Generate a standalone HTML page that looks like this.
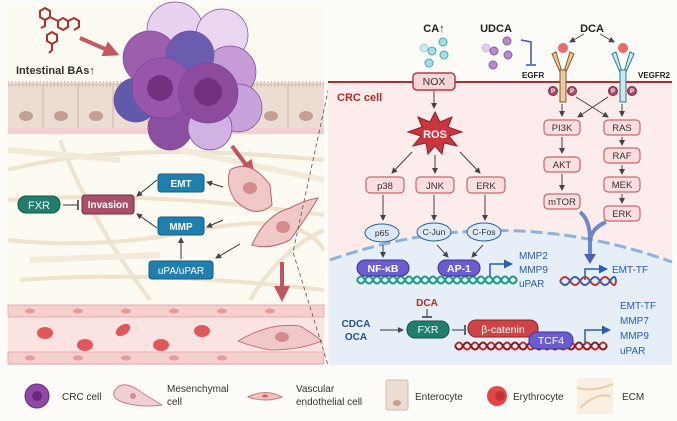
<!DOCTYPE html>
<html><head><meta charset="utf-8"><style>
html,body{margin:0;padding:0;background:#fdfcf8;}
svg{display:block;font-family:"Liberation Sans",Arial,sans-serif;}
</style></head><body>
<svg width="677" height="421" viewBox="0 0 677 421" xmlns="http://www.w3.org/2000/svg">
<defs>
<marker id="ah" markerWidth="6" markerHeight="6" refX="5" refY="3" orient="auto"><path d="M0,0 L6,3 L0,6 z" fill="#444"/></marker>
<marker id="ahb" markerWidth="6" markerHeight="6" refX="4" refY="3" orient="auto"><path d="M0,0 L6,3 L0,6 z" fill="#2a5db0"/></marker>
<marker id="ahr" markerWidth="4" markerHeight="4" refX="2" refY="2" orient="auto"><path d="M0,0 L4,2 L0,4 z" fill="#c0565e"/></marker>
</defs>
<rect width="677" height="421" fill="#fdfcf8"/>
<!-- LEFT PANEL -->
<rect x="8" y="5" width="316" height="360" fill="#fcfaf1"/>
<g stroke="#eddfca" stroke-width="4" fill="none" opacity="0.85">
<path d="M8,170 Q120,140 324,160"/><path d="M8,200 Q150,190 324,215"/><path d="M8,240 Q100,250 200,230 T324,250"/>
<path d="M20,280 Q150,270 324,290"/><path d="M60,140 Q90,220 150,300"/><path d="M250,300 Q280,250 324,230"/>
</g>
<g stroke="#f2ebdc" stroke-width="6" fill="none">
<path d="M8,150 L120,160"/><path d="M180,150 L324,180"/><path d="M30,260 L160,255"/>
</g>
<rect x="8" y="84" width="316" height="44" fill="#ecdcd2"/>
<g stroke="#cdb7aa" stroke-width="1">
<line x1="8" y1="84" x2="324" y2="84"/>
<line x1="43" y1="84" x2="43" y2="128"/><line x1="78" y1="84" x2="78" y2="128"/><line x1="113" y1="84" x2="113" y2="128"/><line x1="148" y1="84" x2="148" y2="128"/><line x1="183" y1="84" x2="183" y2="128"/><line x1="218" y1="84" x2="218" y2="128"/><line x1="253" y1="84" x2="253" y2="128"/><line x1="288" y1="84" x2="288" y2="128"/>
</g>
<path d="M8,84 h316" stroke="#d8c4b8" stroke-width="6" stroke-dasharray="1.5 2"/>
<g fill="#c49f94"><ellipse cx="26" cy="116" rx="7" ry="5"/><ellipse cx="61" cy="116" rx="7" ry="5"/><ellipse cx="96" cy="116" rx="7" ry="5"/><ellipse cx="271" cy="116" rx="7" ry="5"/><ellipse cx="306" cy="116" rx="7" ry="5"/></g>
<rect x="8" y="128" width="316" height="6" fill="#f4cfcf"/>
<g stroke="#a83232" stroke-width="2" fill="none">
<path d="M45,8 l5,3 v6 l-5,3 l-5,-3 v-6z M50,17 l8,4 M58,21 l5,-3 l5,3 v6 l-5,3 l-5,-3z M68,21 l6,-3 l5,3 v6 l-5,3 M45,20 v6 l-4,2"/>
<path d="M52,32 l5,3 v6 l-5,3 l-5,-3 v-6z M52,44 v6 l-3,3"/>
</g>
<line x1="80" y1="38" x2="112" y2="52" stroke="#c65a5e" stroke-width="4" marker-end="url(#ahr)"/>
<text x="16" y="74" font-size="11" font-weight="bold" fill="#333">Intestinal BAs↑</text>
<g stroke="#7a4a9a" stroke-width="0.7">
<circle cx="175" cy="30" r="28" fill="#e8d2ef"/><circle cx="222" cy="35" r="26" fill="#ebd6f1"/>
<circle cx="150" cy="58" r="27" fill="#9c5fae"/><circle cx="230" cy="72" r="26" fill="#c79bd5"/>
<circle cx="190" cy="55" r="24" fill="#6c5cb0"/><circle cx="136" cy="100" r="22" fill="#5f5aaa"/>
<circle cx="238" cy="108" r="24" fill="#c7a2db"/><circle cx="170" cy="128" r="22" fill="#8a4fa0"/>
<circle cx="210" cy="128" r="22" fill="#d2b2e2"/>
<circle cx="162" cy="88" r="30" fill="#9a56ac"/><circle cx="208" cy="93" r="30" fill="#8d4b9e"/>
</g>
<g fill="#70307f"><circle cx="160" cy="88" r="13"/><circle cx="208" cy="92" r="14"/></g>
<line x1="232" y1="146" x2="250" y2="170" stroke="#c05560" stroke-width="4" marker-end="url(#ahr)"/>
<path d="M230,170 Q250,158 270,185 L272,205 Q255,220 235,200 Q225,185 230,170z" fill="#f0c8c8" stroke="#c06070"/>
<path d="M252,245 Q265,215 290,208 Q305,200 318,198 Q305,220 290,240 Q270,250 252,245z" fill="#f0c8c8" stroke="#c06070"/>
<ellipse cx="250" cy="188" rx="7" ry="6" fill="#d48c8e"/><ellipse cx="283" cy="227" rx="7" ry="6" fill="#d48c8e"/>
<line x1="282" y1="262" x2="282" y2="294" stroke="#c05560" stroke-width="4" marker-end="url(#ahr)"/>
<g font-size="10" font-weight="bold" fill="#fff" text-anchor="middle">
<rect x="158" y="174" width="46" height="18" rx="3" fill="#1f7fae" stroke="#155c80"/><text x="181" y="187">EMT</text>
<rect x="158" y="217" width="46" height="18" rx="3" fill="#1f7fae" stroke="#155c80"/><text x="181" y="230">MMP</text>
<rect x="149" y="261" width="64" height="18" rx="3" fill="#1f7fae" stroke="#155c80"/><text x="181" y="274" font-weight="normal">uPA/uPAR</text>
<rect x="82" y="195" width="52" height="19" rx="3" fill="#a8506a" stroke="#6e2c40"/><text x="108" y="208">Invasion</text>
<rect x="18" y="196" width="42" height="17" rx="8" fill="#1f7e6c" stroke="#135446"/><text x="39" y="209" font-weight="normal" font-size="11">FXR</text>
</g>
<g stroke="#333" stroke-width="1" fill="none">
<line x1="223" y1="187" x2="207" y2="182" marker-end="url(#ah)"/>
<line x1="223" y1="220" x2="207" y2="227" marker-end="url(#ah)"/>
<line x1="240" y1="244" x2="216" y2="258" marker-end="url(#ah)"/>
<line x1="181" y1="259" x2="181" y2="238" marker-end="url(#ah)"/>
<line x1="157" y1="180" x2="137" y2="196" marker-end="url(#ah)"/>
<line x1="157" y1="228" x2="137" y2="214" marker-end="url(#ah)"/>
<line x1="63" y1="205" x2="77" y2="205"/><line x1="78" y1="200" x2="78" y2="210" stroke-width="1.5"/>
</g>
<rect x="8" y="305" width="316" height="60" fill="#fbe3e1"/>
<rect x="8" y="305" width="316" height="12" fill="#f6cfcf" stroke="#e0a5a5" stroke-width="0.8"/>
<rect x="8" y="352" width="316" height="12" fill="#f6cfcf" stroke="#e0a5a5" stroke-width="0.8"/>
<g fill="#e89a9a"><ellipse cx="30" cy="311" rx="5" ry="2.5"/><ellipse cx="78" cy="311" rx="5" ry="2.5"/><ellipse cx="126" cy="311" rx="5" ry="2.5"/><ellipse cx="174" cy="311" rx="5" ry="2.5"/><ellipse cx="222" cy="311" rx="5" ry="2.5"/><ellipse cx="270" cy="311" rx="5" ry="2.5"/><ellipse cx="30" cy="358" rx="5" ry="2.5"/><ellipse cx="78" cy="358" rx="5" ry="2.5"/><ellipse cx="126" cy="358" rx="5" ry="2.5"/><ellipse cx="174" cy="358" rx="5" ry="2.5"/><ellipse cx="222" cy="358" rx="5" ry="2.5"/></g>
<g fill="#e0585a"><ellipse cx="45" cy="333" rx="8" ry="6"/><ellipse cx="85" cy="345" rx="8" ry="6"/><ellipse cx="123" cy="330" rx="8" ry="5" transform="rotate(-35 123 330)"/><ellipse cx="161" cy="345" rx="8" ry="6"/><ellipse cx="202" cy="331" rx="8" ry="6"/></g>
<path d="M238,341 Q270,322 300,326 Q315,335 322,341 Q300,350 270,350 Q250,346 238,341z" fill="#f0c8c8" stroke="#c06070" stroke-width="0.8"/>
<ellipse cx="282" cy="337" rx="7" ry="5" fill="#d48c8e"/>
<path d="M330,82 L293,252 L328,365" stroke="#555" stroke-width="0.8" stroke-dasharray="4 3" fill="none"/>
<!-- RIGHT PANEL -->
<rect x="328" y="5" width="344" height="77" fill="#fdfbf8"/>
<rect x="328" y="82" width="344" height="283" fill="#fcecec"/>
<path d="M330,260 Q500,200 672,262 L672,365 L330,365z" fill="#e6eef8"/>
<path d="M330,260 Q500,200 672,262" fill="none" stroke="#8eb2d9" stroke-width="3" stroke-dasharray="12 5"/>
<line x1="328" y1="82" x2="672" y2="82" stroke="#a83232" stroke-width="2"/>
<text x="337" y="101" font-size="11" font-weight="bold" fill="#b02a2a">CRC cell</text>
<g font-size="11" font-weight="bold" fill="#222" text-anchor="middle">
<text x="434" y="32">CA↑</text><text x="496" y="32">UDCA</text><text x="592" y="32">DCA</text>
</g>
<g fill="#a9dde0" stroke="#3eaab2"><circle cx="424" cy="48" r="4" opacity="0.5"/><circle cx="432" cy="51" r="4"/><circle cx="443" cy="42" r="4"/><circle cx="444" cy="55" r="4"/><circle cx="429" cy="63" r="4"/></g>
<g fill="#b48ccb" stroke="#8a5aaa"><circle cx="486" cy="48" r="4" opacity="0.4"/><circle cx="494" cy="51" r="4"/><circle cx="507" cy="41" r="4"/><circle cx="508" cy="55" r="4"/><circle cx="493" cy="65" r="4"/></g>
<path d="M521,40 L531,42 L531,64" fill="none" stroke="#3a55b0" stroke-width="1.5"/><line x1="526" y1="65" x2="536" y2="65" stroke="#3a55b0" stroke-width="1.5"/>
<text x="522" y="78" font-size="8" font-weight="bold" fill="#222">EGFR</text>
<text x="638" y="78" font-size="8" font-weight="bold" fill="#222">VEGFR2</text>
<line x1="584" y1="34" x2="570" y2="42" stroke="#444" marker-end="url(#ah)"/><line x1="600" y1="34" x2="614" y2="42" stroke="#444" marker-end="url(#ah)"/>
<g fill="#e8cba0" stroke="#8c5a20"><path d="M556,52 l-4,2 l8,18 h2z"/><path d="M570,52 l4,2 l-8,18 h-2z"/><rect x="560" y="70" width="6" height="32"/></g>
<g fill="#cfe8f0" stroke="#2a7d90"><path d="M616,52 l-4,2 l8,18 h2z"/><path d="M630,52 l4,2 l-8,18 h-2z"/><rect x="620" y="70" width="6" height="32"/></g>
<circle cx="563" cy="48" r="5" fill="#e86a6a"/><circle cx="623" cy="48" r="5" fill="#e86a6a"/>
<g fill="#b04a68" stroke="#7a2a40"><circle cx="553" cy="91" r="4.5"/><circle cx="572" cy="91" r="4.5"/><circle cx="613" cy="91" r="4.5"/><circle cx="632" cy="91" r="4.5"/></g>
<g fill="#fff" font-size="6" font-weight="bold" text-anchor="middle"><text x="553" y="93">P</text><text x="572" y="93">P</text><text x="613" y="93">P</text><text x="632" y="93">P</text></g>
<g font-size="9.5" fill="#333" text-anchor="middle">
<rect x="413" y="73" width="42" height="17" rx="4" fill="#f9d6d6" stroke="#b03a48" stroke-width="1.5"/><text x="434" y="85" font-size="10.5">NOX</text>
<rect x="366" y="177" width="38" height="16" rx="4" fill="#fbdede" stroke="#b84a55"/><text x="385" y="189">p38</text>
<rect x="416" y="177" width="38" height="16" rx="4" fill="#fbdede" stroke="#b84a55"/><text x="435" y="189">JNK</text>
<rect x="467" y="177" width="38" height="16" rx="4" fill="#fbdede" stroke="#b84a55"/><text x="486" y="189">ERK</text>
<rect x="544" y="120" width="36" height="15" rx="4" fill="#fbdede" stroke="#b84a55"/><text x="562" y="131">PI3K</text>
<rect x="544" y="157" width="36" height="15" rx="4" fill="#fbdede" stroke="#b84a55"/><text x="562" y="168">AKT</text>
<rect x="544" y="194" width="36" height="15" rx="4" fill="#fbdede" stroke="#b84a55"/><text x="562" y="205">mTOR</text>
<rect x="604" y="120" width="36" height="15" rx="4" fill="#fbdede" stroke="#b84a55"/><text x="622" y="131">RAS</text>
<rect x="604" y="148" width="36" height="15" rx="4" fill="#fbdede" stroke="#b84a55"/><text x="622" y="159">RAF</text>
<rect x="604" y="177" width="36" height="15" rx="4" fill="#fbdede" stroke="#b84a55"/><text x="622" y="188">MEK</text>
<rect x="604" y="206" width="36" height="15" rx="4" fill="#fbdede" stroke="#b84a55"/><text x="622" y="217">ERK</text>
</g>
<path d="M435,112 l5,10 l12,-5 l-4,10 l14,5 l-13,4 l8,10 l-13,-3 l-2,11 l-7,-8 l-7,8 l-2,-11 l-13,3 l8,-10 l-13,-4 l14,-5 l-4,-10 l12,5z" fill="#c8373d" stroke="#8a2025"/>
<text x="435" y="138" font-size="11" font-weight="bold" fill="#fff" text-anchor="middle">ROS</text>
<g stroke="#444" stroke-width="1" fill="none">
<line x1="434" y1="91" x2="434" y2="108" marker-end="url(#ah)"/>
<line x1="412" y1="152" x2="392" y2="173" marker-end="url(#ah)"/><line x1="435" y1="155" x2="435" y2="173" marker-end="url(#ah)"/><line x1="460" y1="152" x2="480" y2="173" marker-end="url(#ah)"/>
<line x1="562" y1="104" x2="562" y2="116" marker-end="url(#ah)"/><line x1="622" y1="104" x2="622" y2="116" marker-end="url(#ah)"/>
<line x1="576" y1="97" x2="608" y2="117" marker-end="url(#ah)"/><line x1="608" y1="97" x2="578" y2="117" marker-end="url(#ah)"/>
<line x1="562" y1="137" x2="562" y2="153" marker-end="url(#ah)"/><line x1="562" y1="174" x2="562" y2="190" marker-end="url(#ah)"/>
<line x1="622" y1="137" x2="622" y2="145" marker-end="url(#ah)"/><line x1="622" y1="165" x2="622" y2="174" marker-end="url(#ah)"/><line x1="622" y1="194" x2="622" y2="203" marker-end="url(#ah)"/>
<line x1="383" y1="195" x2="383" y2="220" marker-end="url(#ah)"/><line x1="434" y1="195" x2="434" y2="220" marker-end="url(#ah)"/><line x1="485" y1="195" x2="485" y2="220" marker-end="url(#ah)"/>
<line x1="383" y1="245" x2="383" y2="257" marker-end="url(#ah)"/><line x1="437" y1="245" x2="448" y2="257" marker-end="url(#ah)"/><line x1="483" y1="245" x2="472" y2="257" marker-end="url(#ah)"/>
</g>
<path d="M580,212 Q590,220 590,240 M606,222 Q592,228 590,240 L590,255" stroke="#5874c0" stroke-width="4" fill="none" opacity="0.85"/>
<path d="M584,254 L596,254 L590,264z" fill="#4a63b0"/>
<g font-size="8.5" fill="#333" text-anchor="middle">
<ellipse cx="382" cy="233" rx="17" ry="9" fill="#dbe9f6" stroke="#2d5f90"/><text x="382" y="236">p65</text>
<ellipse cx="434" cy="232" rx="17" ry="9" fill="#dbe9f6" stroke="#2d5f90"/><text x="434" y="235">C-Jun</text>
<ellipse cx="484" cy="232" rx="17" ry="9" fill="#dbe9f6" stroke="#2d5f90"/><text x="484" y="235">C-Fos</text>
</g>
<path d="M357,280 q4,-7 8,0 t8,0 t8,0 t8,0 t8,0 t8,0 t8,0 t8,0 t8,0 t8,0 t8,0 t8,0 t8,0 t8,0 t8,0 t8,0 t8,0 t8,0 t8,0 t8,0" stroke="#1a9a80" stroke-width="2" fill="none"/>
<path d="M357,280 q4,7 8,0 t8,0 t8,0 t8,0 t8,0 t8,0 t8,0 t8,0 t8,0 t8,0 t8,0 t8,0 t8,0 t8,0 t8,0 t8,0 t8,0 t8,0 t8,0 t8,0" stroke="#1a9a80" stroke-width="2" fill="none"/>
<path d="M560,281 q5,-8 10,0 t10,0 t10,0 t10,0 t10,0 t6,0" stroke="#c83030" stroke-width="2" fill="none"/>
<path d="M560,281 q5,8 10,0 t10,0 t10,0 t10,0 t10,0 t6,0" stroke="#3060b0" stroke-width="2" fill="none"/>
<path d="M455,346 q4,-7 8,0 t8,0 t8,0 t8,0 t8,0 t8,0 t8,0 t8,0 t8,0 t8,0 t8,0 t8,0 t8,0 t8,0 t8,0 t8,0 t8,0 t8,0 t8,0" stroke="#c02828" stroke-width="2" fill="none"/>
<path d="M455,346 q4,7 8,0 t8,0 t8,0 t8,0 t8,0 t8,0 t8,0 t8,0 t8,0 t8,0 t8,0 t8,0 t8,0 t8,0 t8,0 t8,0 t8,0 t8,0 t8,0" stroke="#8a1818" stroke-width="2" fill="none"/>
<g font-size="10.5" font-weight="bold" fill="#fff" text-anchor="middle">
<rect x="357" y="260" width="52" height="16" rx="8" fill="#6b5ccf" stroke="#3e3290"/><text x="383" y="272">NF-κB</text>
<rect x="438" y="260" width="42" height="16" rx="8" fill="#6b5ccf" stroke="#3e3290"/><text x="459" y="272">AP-1</text>
<rect x="407" y="321" width="42" height="17" rx="8" fill="#1f7e6c" stroke="#135446"/><text x="428" y="333" font-weight="normal">FXR</text>
<rect x="468" y="320" width="70" height="17" rx="8" fill="#cc4448" stroke="#8a2228"/><text x="503" y="333" font-weight="normal">β-catenin</text>
<rect x="529" y="332" width="44" height="17" rx="8" fill="#6b5ccf" stroke="#3e3290"/><text x="551" y="344" font-weight="normal">TCF4</text>
</g>
<g stroke="#2a5db0" stroke-width="1.5" fill="none">
<path d="M490,276 V264 H510" marker-end="url(#ahb)"/>
<path d="M585,280 V269 H605" marker-end="url(#ahb)"/>
<path d="M585,345 V330 H608" marker-end="url(#ahb)"/>
</g>
<g font-size="10" fill="#2a5db0">
<text x="519" y="259">MMP2</text><text x="519" y="273">MMP9</text><text x="519" y="287">uPAR</text>
<text x="612" y="273">EMT-TF</text>
<text x="620" y="309">EMT-TF</text><text x="620" y="324">MMP7</text><text x="620" y="339">MMP9</text><text x="620" y="354">uPAR</text>
</g>
<text x="427" y="306" font-size="10" font-weight="bold" fill="#b02a2a" text-anchor="middle">DCA</text>
<line x1="427" y1="309" x2="427" y2="316" stroke="#333"/><line x1="422" y1="317" x2="432" y2="317" stroke="#333" stroke-width="1.5"/>
<text x="356" y="327" font-size="10" font-weight="bold" fill="#2a4f90" text-anchor="middle">CDCA</text>
<text x="356" y="340" font-size="10" font-weight="bold" fill="#2a4f90" text-anchor="middle">OCA</text>
<line x1="380" y1="330" x2="403" y2="330" stroke="#333" marker-end="url(#ah)"/>
<line x1="452" y1="330" x2="464" y2="330" stroke="#333"/><line x1="465" y1="325" x2="465" y2="335" stroke="#333" stroke-width="1.5"/>
<g font-size="10" fill="#333">
<circle cx="37" cy="396" r="12" fill="#8e4aa4" stroke="#6a2e80"/><circle cx="37" cy="396" r="5" fill="#6a2880"/>
<text x="62" y="400">CRC cell</text>
<path d="M114,392 Q120,380 135,388 Q150,398 162,405 Q140,408 122,402 Q112,398 114,392z" fill="#f0d0d0" stroke="#c0808a"/>
<circle cx="133" cy="396" r="3" fill="#d09090"/>
<text x="167" y="392">Mesenchymal</text><text x="167" y="405">cell</text>
<path d="M248,397 Q265,388 282,397 Q265,403 248,397z" fill="#f4c0c0" stroke="#d07878"/><ellipse cx="265" cy="396" rx="3" ry="1.5" fill="#d06060"/>
<text x="296" y="392">Vascular</text><text x="296" y="405">endothelial cell</text>
<rect x="386" y="380" width="22" height="30" rx="2" fill="#ecdcd2" stroke="#d0bcb0"/><ellipse cx="397" cy="403" rx="4" ry="3" fill="#c49f94"/>
<text x="415" y="400">Enterocyte</text>
<circle cx="497" cy="396" r="10" fill="#e04848"/><circle cx="500" cy="396" r="5" fill="#c03434"/>
<text x="513" y="400">Erythrocyte</text>
<rect x="577" y="378" width="36" height="36" fill="#f8efe2"/><path d="M577,388 Q595,392 613,384 M580,408 Q597,392 610,396" stroke="#e8cca8" stroke-width="2" fill="none"/>
<text x="622" y="400">ECM</text>
</g>
</svg>
</body></html>
